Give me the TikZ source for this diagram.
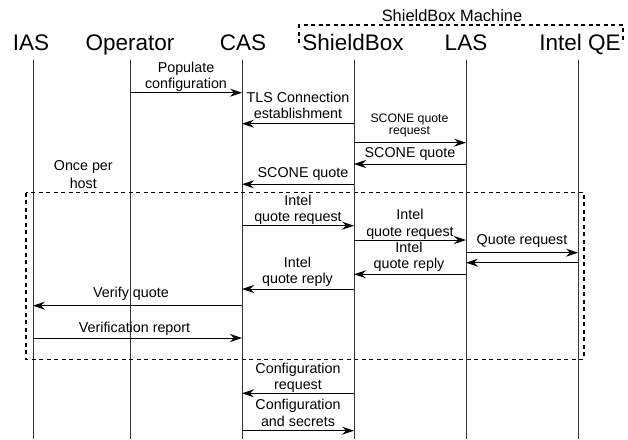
\documentclass[tikz,border=0pt]{standalone}
\usepackage{fontspec}
\setmainfont{Liberation Sans}
\usetikzlibrary{arrows.meta}
\begin{document}
\begin{tikzpicture}[x=1pt,y=-1pt,
  hdr/.style={anchor=base,inner sep=0pt,font=\fontsize{22.5}{26}\selectfont},
  lbl/.style={anchor=base,inner sep=0pt,font=\fontsize{14.3}{17}\selectfont},
  slbl/.style={anchor=base,inner sep=0pt,font=\fontsize{12.3}{15}\selectfont},
  life/.style={line width=1pt,black!80},
  msg/.style={line width=1pt,-{Stealth[length=12pt,width=8pt,inset=4pt]}},
  grp/.style={line width=1.4pt,dash pattern=on 4pt off 3.5pt}]
\useasboundingbox[fill=white] (0,0) rectangle (628,439);
% headers
\node[hdr] (hias) at (31,50) {IAS};
\node[hdr] (hop) at (130,50) {Operator};
\node[hdr] (hcas) at (243,50) {CAS};
\node[hdr] (hsb) at (353,50) {ShieldBox};
\node[hdr] (hlas) at (466,50) {LAS};
\node[hdr] (hqe) at (580,50) {Intel QE};
% machine group
\node[anchor=base,inner sep=0pt,font=\fontsize{16.4}{19}\selectfont] (sbm) at (452,21.5) {ShieldBox Machine};
\coordinate (m1) at (299,43);
\coordinate (m2) at (299,25);
\coordinate (m3) at (623,25);
\coordinate (m4) at (623,43);
\draw[grp] (m1) -- (m2) -- (m3) -- (m4);
% lifelines
\coordinate (ias) at (33,60);   \coordinate (iasb) at (33,439);
\coordinate (op) at (130,60);   \coordinate (opb) at (130,439);
\coordinate (cas) at (242,60);  \coordinate (casb) at (242,439);
\coordinate (sb) at (354,60);   \coordinate (sbb) at (354,439);
\coordinate (las) at (466,60);  \coordinate (lasb) at (466,439);
\coordinate (qe) at (578,60);   \coordinate (qeb) at (578,439);
\foreach \a/\b in {ias/iasb,op/opb,cas/casb,sb/sbb,las/lasb,qe/qeb}
  \draw[life] (\a) -- (\b);
% loop box
\coordinate (g1) at (26,192.7);
\coordinate (g2) at (584,359.3);
\draw[grp] (g1) rectangle (g2);
\node[lbl] (once1) at (83.3,170.5) {Once per};
\node[lbl] (once2) at (83.3,188) {host};
% messages
\draw[msg] (op |- 0,92.7) -- (cas |- 0,92.7);
\node[lbl] (t1a) at (186,72) {Populate};
\node[lbl] (t1b) at (186,88) {configuration};
\draw[msg] (sb |- 0,123.7) -- (cas |- 0,123.7);
\node[lbl] (t2a) at (298,102.5) {TLS Connection};
\node[lbl] (t2b) at (298,118.5) {establishment};
\draw[msg] (sb |- 0,142.7) -- (las |- 0,142.7);
\node[slbl] (t3a) at (409.5,122) {SCONE quote};
\node[slbl] (t3b) at (409.5,134.5) {request};
\draw[msg] (las |- 0,164) -- (sb |- 0,164);
\node[lbl] (t4) at (410,157) {SCONE quote};
\draw[msg] (sb |- 0,184.3) -- (cas |- 0,184.3);
\node[lbl] (t5) at (303,177.5) {SCONE quote};
\draw[msg] (cas |- 0,225.7) -- (sb |- 0,225.7);
\node[lbl] (t6a) at (298,205.5) {Intel};
\node[lbl] (t6b) at (298,221.5) {quote request};
\draw[msg] (sb |- 0,240) -- (las |- 0,240);
\node[lbl] (t7a) at (410,219.5) {Intel};
\node[lbl] (t7b) at (410,236) {quote request};
\draw[msg] (las |- 0,252.7) -- (qe |- 0,252.7);
\node[lbl] (t8) at (522,244.5) {Quote request};
\draw[msg] (qe |- 0,262.7) -- (las |- 0,262.7);
\draw[msg] (las |- 0,274.3) -- (sb |- 0,274.3);
\node[lbl] (t9a) at (409,252.5) {Intel};
\node[lbl] (t9b) at (409,268.5) {quote reply};
\draw[msg] (sb |- 0,289) -- (cas |- 0,289);
\node[lbl] (t10a) at (297.5,267.5) {Intel};
\node[lbl] (t10b) at (297.5,283.5) {quote reply};
\draw[msg] (cas |- 0,305.7) -- (ias |- 0,305.7);
\node[lbl] (t11) at (131,297) {Verify quote};
\draw[msg] (ias |- 0,338) -- (cas |- 0,338);
\node[lbl] (t12) at (134.5,332) {Verification report};
\draw[msg] (sb |- 0,393.3) -- (cas |- 0,393.3);
\node[lbl] (t13a) at (298,373) {Configuration};
\node[lbl] (t13b) at (298,389) {request};
\draw[msg] (cas |- 0,430.7) -- (sb |- 0,430.7);
\node[lbl] (t14a) at (298,409) {Configuration};
\node[lbl] (t14b) at (298,426) {and secrets};
\end{tikzpicture}
\end{document}
